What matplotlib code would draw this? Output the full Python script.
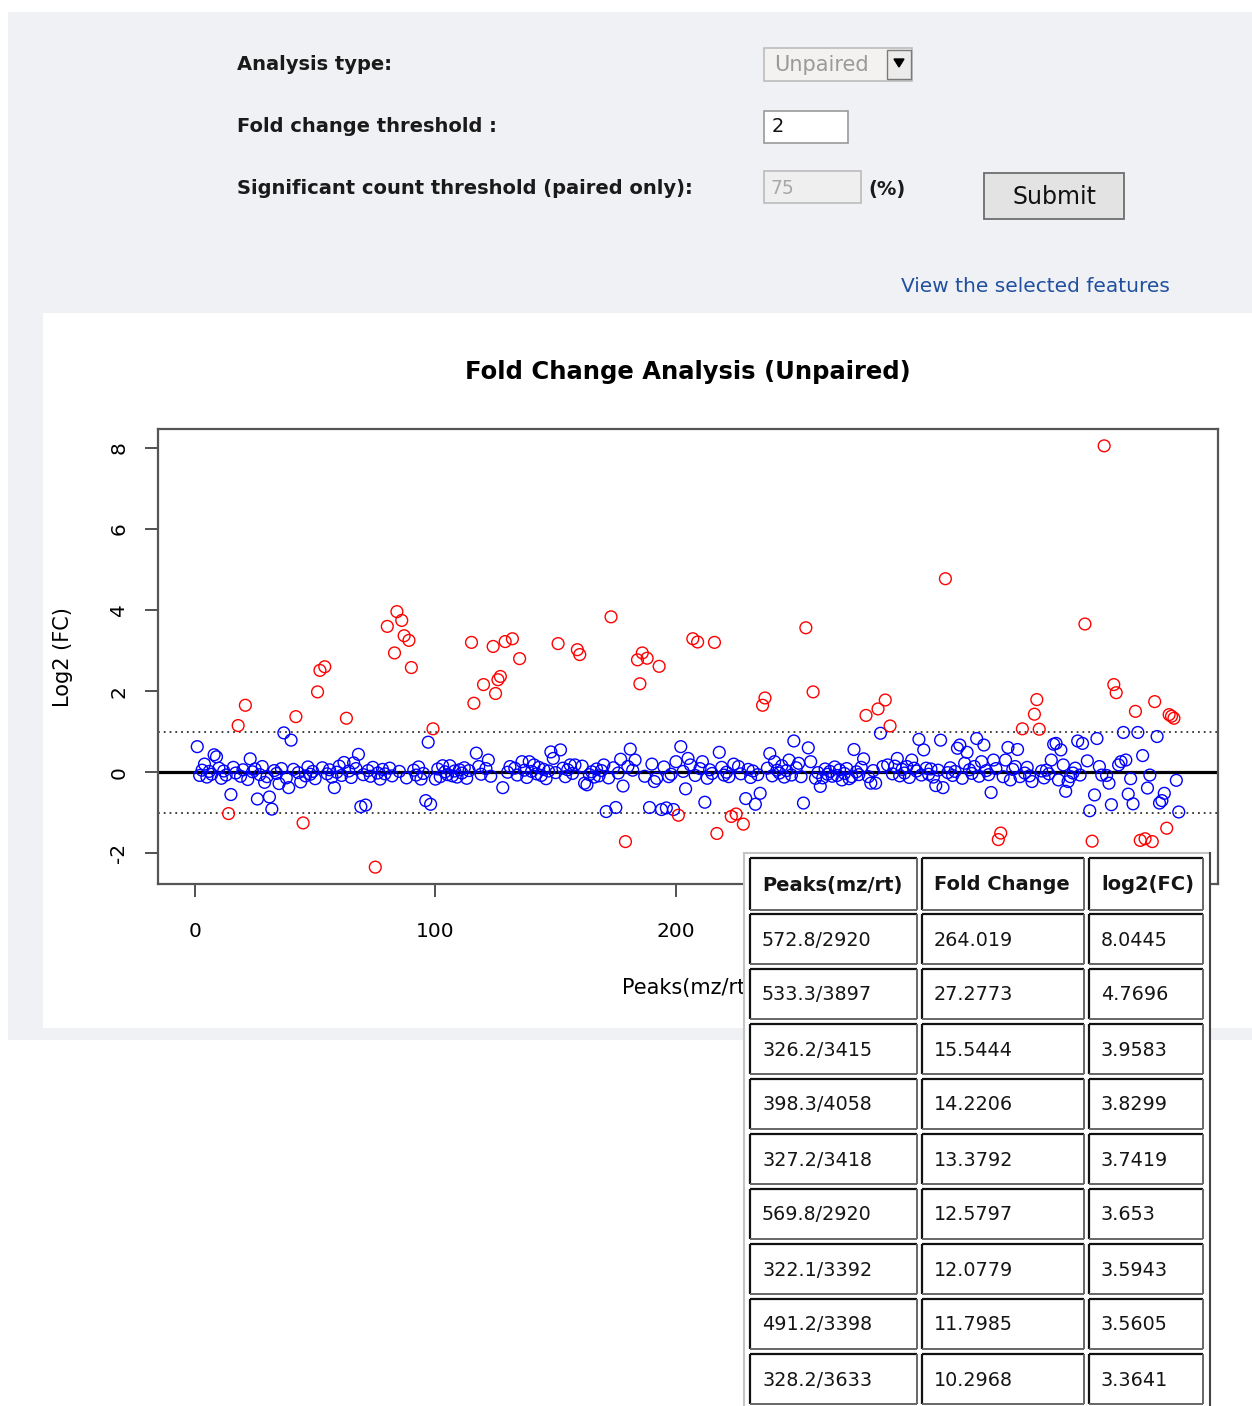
import matplotlib
matplotlib.use('Agg')
import matplotlib.pyplot as plt
from matplotlib.patches import Rectangle, Polygon
import numpy as np

# ---------------- data ----------------
n_peaks = 409
red_idx = [14, 18, 21, 42, 45, 51, 52, 54, 63, 75, 80, 83, 84, 86, 87, 89, 90, 99,
           115, 116, 120, 124, 125, 126, 127, 129, 132, 135, 151, 159, 160, 173, 179,
           184, 185, 186, 188, 193, 201, 207, 209, 216, 217, 223, 225, 228, 236, 237,
           254, 257, 279, 284, 287, 289, 312, 334, 335, 344, 349, 350, 351, 370, 373,
           378, 382, 383, 391, 393, 395, 398, 399, 404, 405, 406, 407]
red_val = [-1.02, 1.15, 1.65, 1.37, -1.25, 1.98, 2.51, 2.60, 1.33, -2.34, 3.5943, 2.94, 3.9583, 3.7419, 3.3641, 3.25, 2.58, 1.07,
           3.20, 1.70, 2.16, 3.10, 1.94, 2.28, 2.36, 3.22, 3.29, 2.80, 3.17, 3.02, 2.90, 3.8299, -1.71,
           2.77, 2.18, 2.94, 2.81, 2.61, -1.06, 3.29, 3.21, 3.20, -1.51, -1.09, -1.03, -1.28, 1.65, 1.83,
           3.5605, 1.98, 1.40, 1.56, 1.78, 1.14, 4.7696, -1.66, -1.50, 1.07, 1.43, 1.79, 1.06, 3.653, -1.70,
           8.0445, 2.16, 1.96, 1.50, -1.68, -1.64, -1.71, 1.74, -1.38, 1.42, 1.38, 1.33]

blue_idx = [1, 4, 8, 9, 15, 23, 26, 29, 31, 32, 35, 37, 39, 40, 44, 58, 62, 66, 68, 69, 71,
            94, 96, 97, 98, 100, 103, 117, 118, 122, 128, 133, 136, 139, 141, 148, 149, 152,
            156, 158, 162, 163, 170, 171, 175, 177, 178, 180, 181, 183, 189, 190, 191, 192,
            194, 196, 197, 199, 200, 202, 204, 205, 206, 211, 212, 218, 224, 229, 233, 235,
            239, 241, 247, 249, 251, 252, 253, 255, 256, 258, 260, 269, 273, 274, 278, 281,
            283, 285, 286, 288, 292, 296, 298, 299, 301, 303, 308, 310, 311, 317, 318, 320,
            321, 325, 327, 328, 331, 332, 337, 338, 339, 341, 342, 343, 348, 356, 357, 358,
            359, 360, 361, 362, 363, 364, 365, 367, 368, 369, 371, 372, 374, 375, 376, 377,
            379, 380, 381, 384, 385, 386, 387, 388, 389, 390, 392, 394, 396, 397, 400, 401,
            402, 403, 408, 409]
blue_val = [0.63, 0.20, 0.43, 0.38, -0.55, 0.33, -0.66, -0.25, -0.61, -0.91, -0.28, 0.97, -0.38, 0.79, -0.24, -0.38, 0.24, 0.23, 0.44, -0.85, -0.81,
            -0.17, -0.70, 0.74, -0.79, -0.17, 0.16, 0.47, 0.14, 0.30, -0.38, 0.10, 0.26, 0.26, 0.18, 0.50, 0.34, 0.55,
            0.18, 0.18, -0.27, -0.31, 0.18, -0.97, -0.87, 0.32, -0.34, 0.14, 0.57, 0.30, -0.87, 0.20, -0.23, -0.15,
            -0.92, -0.88, -0.11, -0.92, 0.26, 0.63, -0.41, 0.34, 0.18, 0.26, -0.74, 0.49, 0.20, -0.65, -0.79, -0.52,
            0.46, 0.26, 0.30, 0.77, 0.22, -0.11, -0.76, 0.60, 0.26, -0.15, -0.35, -0.19, -0.11, 0.56, 0.33, -0.27,
            -0.27, 0.96, 0.14, 0.18, 0.34, 0.14, 0.30, 0.10, 0.81, 0.55, -0.33, 0.79, -0.38, 0.59, 0.67, 0.22,
            0.49, 0.83, 0.26, 0.67, -0.50, 0.30, 0.30, 0.61, -0.19, 0.14, 0.56, -0.11, -0.23, 0.30, 0.69, 0.71,
            -0.19, 0.55, 0.18, -0.47, -0.23, -0.11, -0.02, 0.77, -0.07, 0.71, 0.28, -0.95, -0.56, 0.83, 0.14, -0.07,
            -0.08, -0.27, -0.80, 0.18, 0.26, 0.98, 0.30, -0.54, -0.16, -0.78, 0.98, 0.41, -0.39, -0.07, 0.88, -0.76,
            -0.70, -0.52, -0.20, -0.98]

# remaining peaks sit in the dense band around zero (read in index order)
band_val = [-0.08, 0.05, -0.12, 0.02, -0.05, 0.10, -0.15, 0.03, -0.07, 0.12,
            -0.02, -0.10, 0.06, -0.18, 0.01, 0.08, -0.06, 0.14, -0.11, 0.04,
            -0.03, 0.09, -0.14, 0.07, -0.01, -0.09, 0.13, -0.05, 0.02, -0.16,
            0.11, -0.04, 0.06, -0.12, 0.00, 0.15, -0.08, 0.03, -0.13, 0.09,
            -0.06, 0.04, -0.10, 0.12, -0.02, -0.17, 0.07, -0.04, 0.10, -0.09,
            0.02, -0.14, 0.05, -0.07, 0.13, -0.03, 0.08, -0.11, 0.01, -0.06,
            0.16, -0.09, 0.03, -0.12, 0.06, -0.02, 0.11, -0.15, 0.04, -0.05,
            0.09, -0.10, 0.00, 0.14, -0.07, 0.05, -0.13, 0.02, -0.04, 0.12,
            -0.08, 0.07, -0.16, 0.03, -0.01, 0.10, -0.11, 0.06, -0.03, 0.15,
            -0.06, 0.01, -0.12, 0.08, -0.09, 0.04, -0.14, 0.11, -0.02, 0.05,
            -0.10, 0.13, -0.05, 0.02, -0.08, 0.09, -0.15, 0.06, -0.03, 0.12,
            -0.07, 0.00, -0.11, 0.14, -0.04, 0.07, -0.13, 0.03, -0.06, 0.10,
            -0.09, 0.05, -0.02, 0.16, -0.12, 0.04, -0.07, 0.11, -0.01, -0.14,
            0.08, -0.05, 0.02, -0.10, 0.13, -0.08, 0.06, -0.03, 0.09, -0.16,
            0.01, -0.06, 0.12, -0.11, 0.04, -0.04, 0.15, -0.09, 0.07, -0.02,
            -0.13, 0.03, -0.07, 0.10, -0.05, 0.08, -0.12, 0.05, -0.01, 0.11,
            -0.08, 0.02, -0.15, 0.06, -0.03, 0.14, -0.10, 0.04, -0.06, 0.09,
            -0.11, 0.07, -0.02, 0.12, -0.09, 0.03, -0.14, 0.05, -0.04, 0.10,
            0.01, -0.07, 0.13, -0.12, 0.06, -0.05, 0.08, -0.16, 0.02, -0.03]

table_cols = ['Peaks(mz/rt)', 'Fold Change', 'log2(FC)']
peak_ids = ['572.8/2920', '533.3/3897', '326.2/3415', '398.3/4058', '327.2/3418',
            '569.8/2920', '322.1/3392', '491.2/3398', '328.2/3633']
fold_changes = ['264.019', '27.2773', '15.5444', '14.2206', '13.3792',
                '12.5797', '12.0779', '11.7985', '10.2968']
log2_fcs = ['8.0445', '4.7696', '3.9583', '3.8299', '3.7419',
            '3.653', '3.5943', '3.5605', '3.3641']

x_ticks = [0, 100, 200, 300, 400]
y_ticks = [-2, 0, 2, 4, 6, 8]

# assemble the log2(FC) series per peak index
known = {i: v for i, v in zip(red_idx, red_val)}
known.update({i: v for i, v in zip(blue_idx, blue_val)})
rest = [i for i in range(1, n_peaks + 1) if i not in known]
for i, v in zip(rest, band_val):
    known[i] = v
idx = np.array(sorted(known))
vals = np.array([known[i] for i in idx])
sig = np.abs(vals) > 1

# ---------------- figure ----------------
W, H = 1252, 1406
fig = plt.figure(figsize=(W / 100, H / 100), dpi=100)
fig.patch.set_facecolor('white')
FONT = 'DejaVu Sans'

bg = fig.add_axes([0, 0, 1, 1], zorder=0)
bg.set_xlim(0, W); bg.set_ylim(H, 0); bg.axis('off')

# page panels
bg.add_patch(Rectangle((8, 12), W - 8, 1028, facecolor='#f0f1f4', edgecolor='none'))
bg.add_patch(Rectangle((43, 313), W - 43, 715, facecolor='white', edgecolor='none'))

# form labels
lab_kw = dict(fontsize=14, fontweight='bold', color='#1a1a1a', va='center', ha='left', family=FONT)
bg.text(237, 65, 'Analysis type:', **lab_kw)
bg.text(237, 127, 'Fold change threshold :', **lab_kw)
bg.text(237, 189, 'Significant count threshold (paired only):', **lab_kw)

# dropdown
bg.add_patch(Rectangle((764, 48), 148, 33, facecolor='#f3f2f0', edgecolor='#bdbdbd', lw=1.2))
bg.add_patch(Rectangle((887, 50), 24, 29, facecolor='#ebebeb', edgecolor='#7a7a7a', lw=1.0))
bg.add_patch(Polygon([[894, 59], [904, 59], [899, 67]], closed=True, facecolor='black', edgecolor='black'))
bg.text(774, 65, 'Unpaired', fontsize=15, color='#9a9a9a', va='center', ha='left', family=FONT)

# fold change input
bg.add_patch(Rectangle((764, 111), 84, 32, facecolor='white', edgecolor='#9a9a9a', lw=1.2))
bg.text(772, 127, '2', fontsize=14, color='#111111', va='center', ha='left', family=FONT)

# count input (disabled)
bg.add_patch(Rectangle((764, 171), 97, 32, facecolor='#efefef', edgecolor='#bcbcbc', lw=1.2))
bg.text(771, 188, '75', fontsize=13.5, color='#a8a8a8', va='center', ha='left', family=FONT)
bg.text(868, 189, '(%)', **lab_kw)

# submit button
bg.add_patch(Rectangle((984, 173), 140, 46, facecolor='#e3e3e3', edgecolor='#6e6e6e', lw=1.3))
bg.text(1054, 197, 'Submit', fontsize=17, color='#111111', va='center', ha='center', family=FONT)

# link
bg.text(901, 287, 'View the selected features', fontsize=14.5, color='#1f4f9f', va='center', ha='left', family=FONT)

# chart title and axis labels
bg.text(688, 372, 'Fold Change Analysis (Unpaired)', fontsize=17.5, fontweight='bold',
        color='black', va='center', ha='center', family=FONT)
bg.text(63, 657, 'Log2 (FC)', fontsize=15, rotation=90, va='center', ha='center', family=FONT)
bg.text(688, 988, 'Peaks(mz/rt)', fontsize=15, va='center', ha='center', family=FONT)

# ---------------- chart axes ----------------
L, R, T, B = 158, 1218, 429, 884
ax = fig.add_axes([L / W, 1 - B / H, (R - L) / W, (B - T) / H], zorder=1)
ax.set_facecolor('white')

xr = idx.max() - idx.min()
ax.set_xlim(idx.min() - 0.04 * xr, idx.max() + 0.04 * xr)
yr = vals.max() - vals.min()
ax.set_ylim(vals.min() - 0.04 * yr, vals.max() + 0.04 * yr)

ax.axhline(0, color='black', lw=2.3, zorder=2)
for yv in (1, -1):
    ax.axhline(yv, color='#333333', lw=1.3, linestyle=(0, (1, 2.2)), zorder=2)

ax.scatter(idx[~sig], vals[~sig], s=72, facecolors='none', edgecolors='#0000ff', linewidths=1.0, zorder=3)
ax.scatter(idx[sig], vals[sig], s=72, facecolors='none', edgecolors='#ff0000', linewidths=1.0, zorder=3)

for sp in ax.spines.values():
    sp.set_color('#555555'); sp.set_linewidth(1.6)

ax.set_xticks(x_ticks)
ax.set_xticklabels([str(t) for t in x_ticks])
ax.set_yticks(y_ticks)
ax.set_yticklabels([str(t) for t in y_ticks])
ax.tick_params(axis='both', direction='out', length=9.5, width=1.2, color='#333333', labelsize=14.5)
ax.tick_params(axis='x', pad=18)
ax.tick_params(axis='y', pad=12)
for lab in ax.get_yticklabels():
    lab.set_rotation(90); lab.set_va('center'); lab.set_family(FONT)
for t, lab in zip(x_ticks, ax.get_xticklabels()):
    lab.set_family(FONT)
    if t >= 300:  # these labels sit under the results table
        lab.set_visible(False)

# ---------------- results table overlay ----------------
top = fig.add_axes([0, 0, 1, 1], zorder=3)
top.set_xlim(0, W); top.set_ylim(H, 0); top.axis('off')
top.patch.set_alpha(0)

top.add_patch(Rectangle((744, 853), 466, H - 853 + 10, facecolor='white', edgecolor='none'))
top.plot([744, 744], [853, H + 5], color='#c4c4c4', lw=1.5)
top.plot([744, 1210], [853, 853], color='#c4c4c4', lw=1.5)
top.plot([1210, 1210], [853, H + 5], color='#444444', lw=1.5)

col_x = [(750, 917), (922, 1084), (1089, 1203)]
row_y = [(858, 910)] + [(914 + 55 * r, 964 + 55 * r) for r in range(len(peak_ids))]
rows = [table_cols] + [list(t) for t in zip(peak_ids, fold_changes, log2_fcs)]

for r, (y0, y1) in enumerate(row_y):
    for c, (x0, x1) in enumerate(col_x):
        top.plot([x0, x1], [y0, y0], color='#111111', lw=1.6, solid_capstyle='butt')
        top.plot([x0, x0], [y0, y1], color='#111111', lw=1.6, solid_capstyle='butt')
        top.plot([x0, x1], [y1, y1], color='#666666', lw=1.4, solid_capstyle='butt')
        top.plot([x1, x1], [y0, y1], color='#666666', lw=1.4, solid_capstyle='butt')
        top.text(x0 + 12, (y0 + y1) / 2 + 1, rows[r][c], fontsize=14 if r == 0 else 13.8,
                 fontweight='bold' if r == 0 else 'normal', color='#151515',
                 va='center', ha='left', family=FONT)

fig.savefig('out.png', dpi=100, facecolor='white')
